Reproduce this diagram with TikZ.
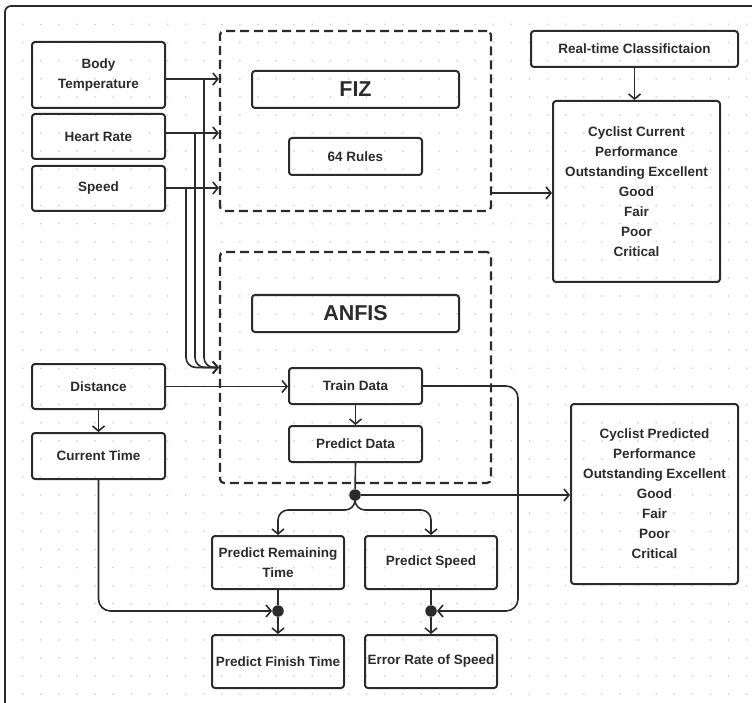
\documentclass[tikz,border=0pt]{standalone}
\usepackage{fontspec}
\setmainfont{Liberation Sans}
\usetikzlibrary{arrows.meta,calc}
\definecolor{ink}{HTML}{2B2B2B}
\definecolor{gridgray}{HTML}{D4D4D4}
\begin{document}
\begin{tikzpicture}[x=1pt,y=-1pt,
  box/.style={draw=ink, line width=2pt, rounded corners=3pt, text=ink,
    font=\bfseries\fontsize{13.5}{20}\selectfont, align=center, inner sep=0pt},
  titlebox/.style={box, font=\bfseries\fontsize{21.5}{24}\selectfont},
  group/.style={draw=ink, line width=2.2pt, dash pattern=on 9pt off 5pt,
    rounded corners=4pt, inner sep=0pt},
  junction/.style={circle, fill=ink, inner sep=0pt, minimum size=11.5pt},
  wire/.style={draw=ink, line width=1.6pt},
  conn/.style={wire, -{Straight Barb[length=5pt,width=12pt]}}
]
\useasboundingbox (0,0) rectangle (752,703);

% dotted canvas
\foreach \i in {0,...,41}
  \foreach \j in {0,...,38}
    \fill[gridgray] (22.7+18.1*\i, 24.5+18.1*\j) circle (1pt);

% outer frame
\begin{scope}
  \clip (0,0) rectangle (752,703);
  \draw[ink, line width=1.7pt, rounded corners=6pt] (5,6) rectangle (790,740);
\end{scope}

% dashed groups
\node[group, minimum width=271pt, minimum height=180pt] (fizc) at (355.5,121) {};
\node[group, minimum width=271pt, minimum height=231pt] (anfc) at (355.5,367.5) {};

% inputs
\node[box, minimum width=133pt, minimum height=66pt] (bt) at (98.5,75) {Body\\Temperature};
\node[box, minimum width=133pt, minimum height=45pt] (hr) at (98.5,136.5) {Heart Rate};
\node[box, minimum width=133pt, minimum height=45pt] (sp) at (98.5,188.5) {Speed};
\node[box, minimum width=133pt, minimum height=45pt] (dist) at (98.5,386.5) {Distance};
\node[box, minimum width=133pt, minimum height=46pt] (ctime) at (98.5,456) {Current Time};

% FIZ block
\node[titlebox, minimum width=207pt, minimum height=37pt] (fiz) at (355.5,89.5) {FIZ};
\node[box, minimum width=133pt, minimum height=37pt] (rules) at (355.5,156.5) {64 Rules};

% ANFIS block
\node[titlebox, minimum width=207pt, minimum height=37pt] (anfis) at (355.5,313.5) {ANFIS};
\node[box, minimum width=133pt, minimum height=36pt] (train) at (355.5,386) {Train Data};
\node[box, minimum width=133pt, minimum height=36pt] (pred) at (355.5,444) {Predict Data};

% classification outputs
\node[box, minimum width=207pt, minimum height=36pt] (rtc) at (634.5,49) {Real-time Classifictaion};
\node[box, minimum width=167pt, minimum height=181pt] (ccp) at (636.5,191.5)
  {Cyclist Current\\Performance\\Outstanding Excellent\\Good\\Fair\\Poor\\Critical};
\node[box, minimum width=167pt, minimum height=180pt] (cpp) at (654.5,494)
  {Cyclist Predicted\\Performance\\Outstanding Excellent\\Good\\Fair\\Poor\\Critical};

% prediction results
\node[box, minimum width=132pt, minimum height=53pt] (prt) at (278,562.5) {Predict Remaining\\Time};
\node[box, minimum width=132pt, minimum height=53pt] (ps) at (431,562.5) {Predict Speed};
\node[box, minimum width=132pt, minimum height=53pt] (pft) at (278,661.5) {Predict Finish Time};
\node[box, minimum width=132pt, minimum height=53pt] (ers) at (431,661.5) {Error Rate of Speed};

% junctions
\node[junction] (j1) at (355,495) {};
\node[junction] (j2) at (278,611) {};
\node[junction] (j3) at (431,611) {};

% sensor feeds into FIZ
\coordinate (btout) at ($(bt.east)+(0,4)$);
\coordinate (hrout) at ($(hr.east)+(0,-3.5)$);
\coordinate (spout) at ($(sp.east)+(0,-0.5)$);
\draw[conn] (btout) -- (btout -| fizc.west);
\draw[conn] (hrout) -- (hrout -| fizc.west);
\draw[conn] (spout) -- (spout -| fizc.west);

% sensor feeds into ANFIS
\coordinate (tapT) at ($(btout)+(38,0)$);
\coordinate (tapH) at ($(hrout)+(29,0)$);
\coordinate (tapS) at ($(spout)+(20,0)$);
\draw[conn, rounded corners=10pt] (tapT) |- (anfc.west);
\draw[conn, rounded corners=10pt] (tapH) |- (anfc.west);
\draw[conn, rounded corners=10pt] (tapS) |- (anfc.west);

% FIZ to current performance
\coordinate (fizout) at ($(fizc.east)+(0,72)$);
\draw[conn] (fizout) -- (fizout -| ccp.west);
\draw[conn] (rtc.south) -- (rtc.south |- ccp.north);

% distance and time
\draw[conn] (dist.east) -- (dist.east -| train.west);
\draw[conn] (dist.south) -- (ctime.north);
\draw[conn, rounded corners=12pt] (ctime.south) |- (j2.west);

% ANFIS flow
\draw[conn] (train.south) -- (pred.north);
\draw[wire] (pred.south) -- (j1);
\draw[conn] (j1) -- (j1 -| cpp.west);
\draw[conn, rounded corners=10pt] (j1.center) -- ($(j1)+(0,15)$) -| (prt.north);
\draw[conn, rounded corners=10pt] (j1.center) -- ($(j1)+(0,15)$) -| (ps.north);

% train data loop to speed error
\coordinate (rloop) at (518,611);
\draw[conn, rounded corners=12pt] (train.east) -| (rloop) -- (j3.east);

% results
\draw[wire] (prt.south) -- (j2);
\draw[conn] (j2) -- (pft.north);
\draw[wire] (ps.south) -- (j3);
\draw[conn] (j3) -- (ers.north);
\end{tikzpicture}
\end{document}
